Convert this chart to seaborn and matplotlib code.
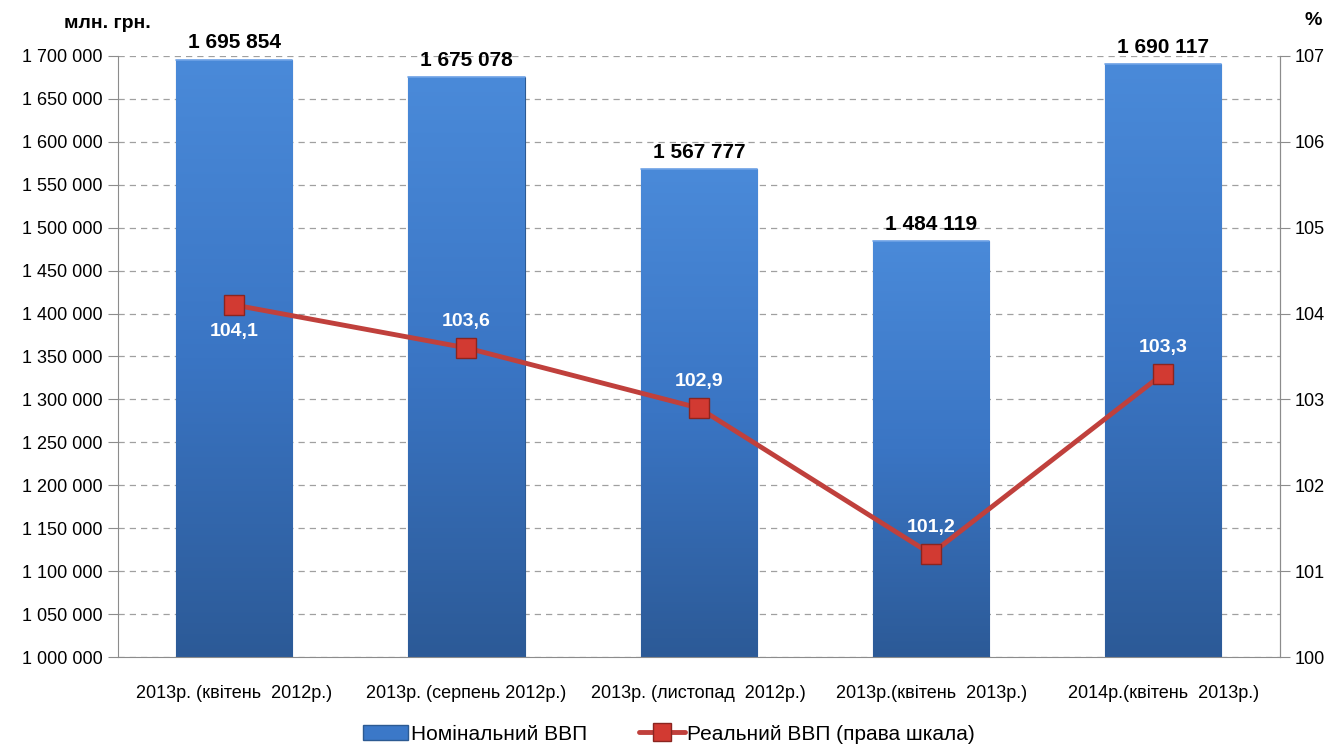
import numpy as np
import matplotlib
matplotlib.use("Agg")
import matplotlib.pyplot as plt
import seaborn as sns
from matplotlib.ticker import FuncFormatter, MultipleLocator, FixedLocator
from matplotlib.patches import Patch
from matplotlib.lines import Line2D
from matplotlib.colors import LinearSegmentedColormap

# data
categories = ["2013р. (квітень  2012р.)", "2013р. (серпень 2012р.)",
              "2013р. (листопад  2012р.)", "2013р.(квітень  2013р.)",
              "2014р.(квітень  2013р.)"]
nominal_gdp = [1695854, 1675078, 1567777, 1484119, 1690117]
real_gdp = [104.1, 103.6, 102.9, 101.2, 103.3]
real_label_above = [False, True, True, True, True]

sns.set_style("white")
plt.rcParams['font.family'] = ['Liberation Sans Narrow', 'Liberation Sans', 'DejaVu Sans']
plt.rcParams['text.color'] = "black"
plt.rcParams['xtick.labelcolor'] = "black"
plt.rcParams['ytick.labelcolor'] = "black"

fig = plt.figure(figsize=(13.37, 7.46), dpi=100)
ax = fig.add_axes([0.0883, 0.1193, 0.8687, 0.8057])

sns.barplot(x=categories, y=nominal_gdp, ax=ax, color="#3b78c8", width=0.5,
            edgecolor="#2c5a92", linewidth=0.8, zorder=2)

y_min, y_max = 1000000, 1700000

# bar gradient (kept inside the visible range)
cmap = LinearSegmentedColormap.from_list("bar", ["#2c5a97", "#3a75c4", "#4a8ad9"])
grad = np.linspace(0, 1, 256).reshape(-1, 1)
for p in ax.patches:
    x0 = p.get_x()
    w, h = p.get_width(), p.get_height()
    top = p.get_y() + h
    im = ax.imshow(grad, extent=[x0, x0 + w, y_min, top], origin="lower",
                   cmap=cmap, aspect="auto", zorder=2.5)
    im.set_clip_path(p)
    ax.plot([x0, x0 + w], [top, top], color="#6fa3e6", linewidth=1.2, zorder=2.6)

ax.set_xlim(-0.5, 4.5)
ax.set_ylim(y_min, y_max)
ax.yaxis.set_major_locator(MultipleLocator(50000))
ax.yaxis.set_major_formatter(FuncFormatter(lambda v, _: f"{int(v):,}".replace(",", " ")))
ax.grid(axis="y", color="#a0a0a0", linestyle=(0, (5, 4)), linewidth=0.9)
ax.set_axisbelow(True)
ax.set_xticks(range(len(categories)))
ax.set_xticklabels(categories, fontsize=13)
ax.xaxis.set_minor_locator(FixedLocator(np.arange(-0.5, 5, 1)))
ax.tick_params(axis="x", which="major", length=0, pad=20)
ax.tick_params(axis="x", which="minor", length=8, color="#8c8c8c", direction="out")
ax.tick_params(axis="y", length=7, color="#8c8c8c", direction="out", labelsize=13, pad=4)
for s in ["left", "bottom", "right"]:
    ax.spines[s].set_color("#8c8c8c")
ax.spines["top"].set_visible(False)
ax.set_xlabel("")

for i, v in enumerate(nominal_gdp):
    ax.text(i, v + 9000, f"{v:,}".replace(",", " "), ha="center", va="bottom",
            fontsize=15, fontweight="bold", color="black")

# real GDP line on right axis
ax2 = ax.twinx()
x_pos = np.arange(len(categories))
sns.lineplot(x=x_pos, y=real_gdp, ax=ax2, color="#c0403c", linewidth=3.5,
             marker="s", markersize=14, markerfacecolor="#d23a32",
             markeredgecolor="#8a2520", markeredgewidth=1, zorder=5)
ax2.set_ylim(100, 107)
ax2.yaxis.set_major_locator(MultipleLocator(1))
ax2.tick_params(axis="y", length=7, color="#8c8c8c", direction="out", labelsize=13, pad=4)
for s in ax2.spines.values():
    s.set_visible(False)
ax2.spines["right"].set_visible(True)
ax2.spines["right"].set_color("#8c8c8c")

for i, v in enumerate(real_gdp):
    dy = 0.21 if real_label_above[i] else -0.21
    ax2.text(i, v + dy, f"{v:.1f}".replace(".", ","), ha="center",
             va="bottom" if real_label_above[i] else "top",
             fontsize=14, fontweight="bold", color="white", zorder=6)

fig.text(0.048, 0.968, "млн. грн.", fontsize=14, fontweight="bold", ha="left", va="center")
fig.text(0.982, 0.972, "%", fontsize=14, fontweight="bold", ha="center", va="center")

handles = [Patch(facecolor="#3b78c8", edgecolor="#2c5a92"),
           Line2D([], [], color="#c0403c", linewidth=3.5, marker="s", markersize=13,
                  markerfacecolor="#d23a32", markeredgecolor="#8a2520")]
fig.legend(handles, ["Номінальний ВВП", "Реальний ВВП (права шкала)"],
           loc="lower center", bbox_to_anchor=(0.5, -0.022), ncol=2, frameon=False,
           fontsize=15, handlelength=2.2, handletextpad=0.1, columnspacing=2.5)

fig.savefig("out.png", dpi=100)
